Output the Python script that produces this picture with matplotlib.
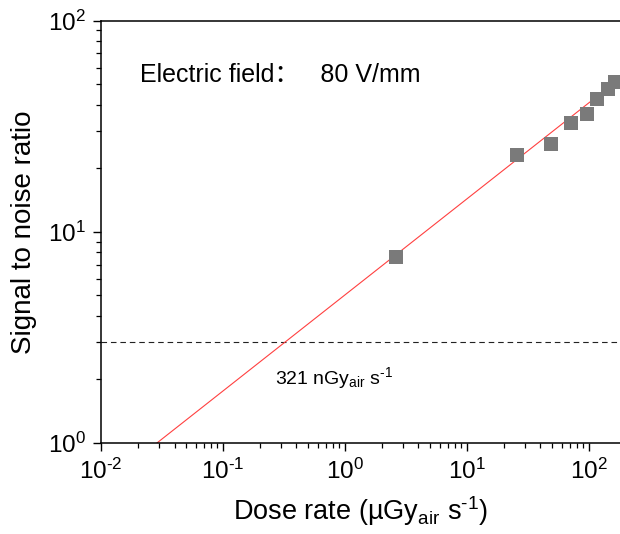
import numpy as np
import matplotlib
matplotlib.use("Agg")
import matplotlib.pyplot as plt
from matplotlib.ticker import FuncFormatter

plt.rcParams['font.family'] = ['Liberation Sans', 'Noto Sans CJK SC', 'DejaVu Sans']
plt.rcParams['mathtext.fontset'] = 'custom'
plt.rcParams['mathtext.rm'] = 'Liberation Sans'
plt.rcParams['mathtext.default'] = 'regular'
plt.rcParams['axes.unicode_minus'] = False

# Measured signal-to-noise ratio vs. dose rate
dose_rate = [2.6, 25.5, 48.9, 71.0, 95.7, 117.0, 142.0, 163.0]   # µGy_air/s
snr = [7.6, 23.1, 26.1, 32.7, 36.0, 42.4, 47.3, 51.4]

# Power-law fit: SNR = 3 at the detection limit, slope on log-log axes
fit_slope = 0.455
detection_limit = 0.321     # µGy_air/s (321 nGy_air/s)
snr_threshold = 3.0

x_min, x_max = 1e-2, 10 ** 2.254
y_min, y_max = 1.0, 100.0

HYPHEN = '\u2010'


def decade_label(val, pos):
    e = int(round(np.log10(val)))
    s = str(e).replace('-', HYPHEN)
    return r'$10^{%s}$' % s


fig = plt.figure(figsize=(6.2, 5.34), dpi=100)
ax = fig.add_axes([0.163, 0.1704, 0.837, 0.7908])

# fitted line, starting where it meets SNR = 1
x_start = detection_limit * (y_min / snr_threshold) ** (1.0 / fit_slope)
x_fit = np.logspace(np.log10(x_start), np.log10(x_max), 200)
y_fit = snr_threshold * (x_fit / detection_limit) ** fit_slope
ax.plot(x_fit, y_fit, color='#ff4040', lw=0.8, zorder=2)

# SNR = 3 threshold
ax.axhline(snr_threshold, color='#222222', lw=0.8, ls=(0, (5, 3.5)), zorder=1)

ax.plot(dose_rate, snr, ls='none', marker='s', markersize=9.4,
        color='#7a7a7a', markeredgewidth=0, zorder=3)

ax.set_xscale('log')
ax.set_yscale('log')
ax.set_xlim(x_min, x_max)
ax.set_ylim(y_min, y_max)
ax.xaxis.set_major_formatter(FuncFormatter(decade_label))
ax.yaxis.set_major_formatter(FuncFormatter(decade_label))

ax.spines['right'].set_visible(False)
for s in ('left', 'bottom', 'top'):
    ax.spines[s].set_linewidth(1.1)

ax.tick_params(which='major', direction='out', length=6, width=1.0,
               labelsize=17.5, pad=5)
ax.tick_params(which='minor', direction='out', length=3.5, width=0.9)
ax.tick_params(top=False, right=False, which='both')

ax.set_xlabel('Dose rate (µGy$_{air}$ s$^{%s1}$)' % HYPHEN, fontsize=19.5, labelpad=8)
ax.set_ylabel('Signal to noise ratio', fontsize=20, labelpad=8)

ax.text(0.075, 0.871, 'Electric field：   80 V/mm', transform=ax.transAxes,
        fontsize=18, ha='left', va='center')
ax.text(0.336, 0.155, '321 nGy$_{air}$ s$^{%s1}$' % HYPHEN, transform=ax.transAxes,
        fontsize=14, ha='left', va='center')

fig.savefig('out.png', dpi=100)
